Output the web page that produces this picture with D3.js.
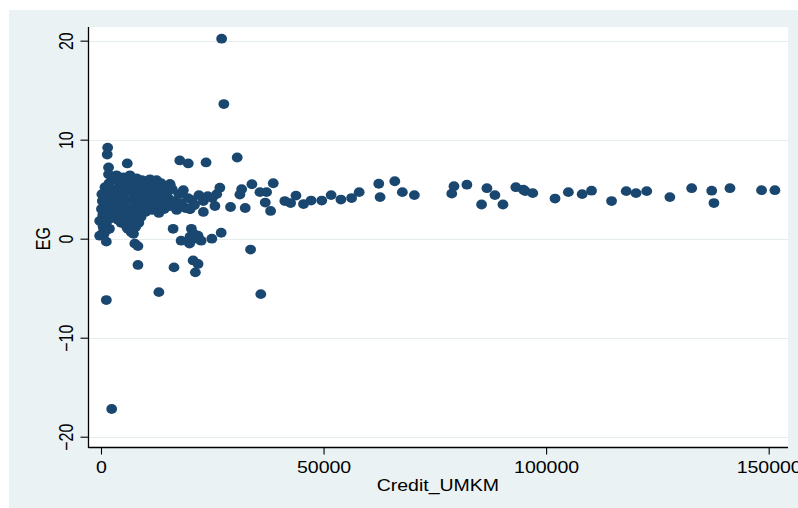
<!DOCTYPE html>
<html>
<head>
<meta charset="utf-8">
<script src="https://cdn.jsdelivr.net/npm/d3@7"></script>
<style>
  html, body { margin: 0; padding: 0; background: #ffffff; }
  svg { display: block; }
  text { font-family: "Liberation Sans", Arial, sans-serif; fill: #000; }
</style>
</head>
<body>
<svg id="chart" width="798" height="508"></svg>
<script>
// ---- Data (Credit_UMKM, EG) ----
const creditUMKM = [
  // outliers / distinct points
  27100, 27600, 1500, 1400, 1700, 1700, 5900, 17700, 19600, 23600, 30600,
  1200, 13000, 35900, 2400, 8300, 16400, 20700, 21800, 21200,
  -300, 1200, 7600, 8300, 6800, 16200, 20300, 18000, 19900, 21800, 22500, 24900, 27000, 33600,
  20800, 21500, 20000, 5800, 7300, 450, -300,
  // medium range
  15500, 26700, 26000, 31600, 31200, 33900, 35700, 37200, 36900, 38100, 38700,
  23000, 25600, 29100, 32400, 23000, 20000,
  41300, 42600, 43800, 45500, 47200, 49600, 51700, 53900, 56300, 58000,
  62400, 62700, 66000, 67700, 70400, 78800, 79300, 82200, 86700, 85500, 88500, 90300, 93200, 95300,
  94900, 97000, 102000, 105000, 108100, 110200, 114700, 118000, 120200, 122600, 127800,
  132700, 137200, 137700, 141300, 148400, 151400,
  // dense cluster
  200, 300, 100, 400, 200, 500, 600, 900, 1000, 1200, 1400, 1600, 1100, 1800, 2000, 2200, 2400, 2600, 1900, 2800, 700, 1300,
  3000, 3200, 3400, 3600, 3800, 4000, 4200, 4400, 4600, 4800, 5000, 5200, 5400, 5600, 5800, 6000, 3500, 4500, 5500, 6200,
  6500, 6800, 7000, 7200, 7400, 7600, 7000, 8000, 8200, 8400, 8600, 8800, 9000, 9200, 9400, 9600, 9800, 10000, 8500, 6000, 7800,
  10300, 10600, 10900, 11200, 11500, 11800, 12100, 12400, 12700, 13000, 13300, 13600, 13900, 14200, 14500, 11000, 12500,
  13500, 14800,
  15000, 15500, 16000, 16500, 17000, 17500, 18000, 18500, 19000, 19500, 20000, 20500, 21000, 22000, 23000, 24000, 25000, 15500
];
const eg = [
  20.2, 13.6, 9.2, 8.5, 7.2, 6.5, 7.6, 7.9, 7.6, 7.7, 8.2,
  -6.2, -5.4, -5.6, -17.2, -2.65, -2.9, -2.2, -2.55, -3.4,
  0.3, -0.3, -0.5, -0.75, 0.65, 1.0, 1.0, -0.2, -0.5, 0.3, -0.2, 0.0, 0.6, -1.1,
  0.5, 0.0, 0.2, 1.15, 0.5, 1.3, 1.8,
  5.5, 5.15, 4.5, 5.0, 4.45, 5.5, 4.7, 4.7, 3.65, 2.8, 5.6,
  2.7, 3.3, 3.2, 3.1, 4.15, 3.0,
  3.8, 3.6, 4.35, 3.5, 3.85, 3.85, 4.4, 3.95, 4.1, 4.7,
  5.55, 4.2, 5.8, 4.7, 4.4, 4.55, 5.3, 5.45, 5.1, 3.45, 4.4, 3.45, 5.2, 4.8,
  4.95, 4.6, 4.05, 4.7, 4.5, 4.85, 3.8, 4.8, 4.6, 4.8, 4.2,
  5.1, 4.85, 3.6, 5.1, 4.9, 4.9,
  4.5, 3.8, 3.0, 2.4, 1.8, 1.2, 0.8, 5.2, 4.1, 3.3, 2.6, 1.9, 1.4, 5.6, 4.8, 3.6, 2.9, 2.1, 1.0, 6.0, 0.5, 0.9,
  5.0, 4.3, 3.5, 2.7, 1.9, 5.8, 4.9, 4.1, 3.2, 2.4, 6.2, 5.4, 4.6, 3.8, 3.0, 2.2, 6.4, 1.6, 1.5, 5.0,
  6.4, 5.6, 4.8, 4.0, 3.2, 2.5, 1.7, 6.1, 5.3, 4.5, 3.7, 2.9, 2.2, 5.9, 5.0, 4.2, 3.4, 2.7, 1.6, 1.0, 1.2,
  5.8, 5.0, 4.3, 3.6, 2.9, 5.4, 4.6, 3.9, 3.2, 2.6, 5.1, 4.4, 3.7, 3.0, 4.8, 6.0, 5.9,
  5.6, 5.3,
  4.2, 3.3, 5.0, 3.8, 2.9, 4.5, 3.6, 4.9, 3.1, 4.1, 3.0, 3.9, 3.4, 4.4, 3.8, 4.3, 4.1, 5.5
];
const xTicks = [0, 50000, 100000, 150000];
const yTicks = [-20, -10, 0, 10, 20];
const xTitle = "Credit_UMKM";
const yTitle = "EG";

// ---- Drawing ----
const svg = d3.select("#chart");
const stretch = 1.22;

// outer graph region
svg.append("rect").attr("x", 9).attr("y", 10).attr("width", 789).attr("height", 498)
  .attr("fill", "#eaf2f3");

const plot = { left: 89, right: 788, top: 27, bottom: 447 };
svg.append("rect").attr("x", plot.left).attr("y", plot.top)
  .attr("width", plot.right - plot.left).attr("height", plot.bottom - plot.top)
  .attr("fill", "#ffffff");

const x = d3.scaleLinear().domain([-2696, 154340]).range([plot.left, plot.right]);
const y = d3.scaleLinear().domain([-21.04, 21.38]).range([plot.bottom, plot.top]);

// gridlines
svg.append("g").selectAll("line").data(yTicks).join("line")
  .attr("x1", plot.left).attr("x2", plot.right)
  .attr("y1", d => Math.round(y(d)) + 0.5).attr("y2", d => Math.round(y(d)) + 0.5)
  .attr("stroke", "#e4ecee").attr("stroke-width", 1.2);

// points
const pts = creditUMKM.map((c, i) => ({ c, e: eg[i] }));
svg.append("g").selectAll("ellipse").data(pts).join("ellipse")
  .attr("cx", d => x(d.c)).attr("cy", d => y(d.e))
  .attr("rx", 5.4).attr("ry", 4.9)
  .attr("fill", "#1a476f");

// x axis
const xAxis = svg.append("g").attr("transform", `translate(0,${plot.bottom + 0.5})`)
  .call(d3.axisBottom(x).tickValues(xTicks).tickFormat(d3.format("d")).tickSize(7).tickPadding(0));
xAxis.select(".domain").attr("d", `M${plot.left - 0.5},0H${plot.right}`).attr("stroke", "#000").attr("stroke-width", 1.3);
xAxis.selectAll(".tick line").attr("stroke", "#000").attr("stroke-width", 1.1);
xAxis.selectAll(".tick text")
  .attr("font-size", 16).attr("font-family", "Liberation Sans, Arial, sans-serif")
  .attr("y", 26).attr("dy", 0)
  .attr("transform", `scale(${stretch},1)`);

// y axis
const yAxis = svg.append("g").attr("transform", `translate(${plot.left - 0.5},0)`)
  .call(d3.axisLeft(y).tickValues(yTicks).tickFormat(d3.format("d")).tickSize(8).tickPadding(0));
yAxis.select(".domain").attr("d", `M0,${plot.top}V${plot.bottom + 1}`).attr("stroke", "#000").attr("stroke-width", 1.3);
yAxis.selectAll(".tick line").attr("stroke", "#000").attr("stroke-width", 1.1);
yAxis.selectAll(".tick text")
  .attr("font-size", 16).attr("font-family", "Liberation Sans, Arial, sans-serif")
  .attr("x", 0).attr("y", 0).attr("dy", 0)
  .attr("text-anchor", "middle")
  .attr("transform", `translate(-16,0) scale(${stretch},1) rotate(-90)`);

// axis titles
svg.append("text").attr("text-anchor", "middle").attr("font-size", 16)
  .attr("transform", `translate(${(x(0) + x(150000)) / 2 + 3},491) scale(${stretch},1)`)
  .text(xTitle);
svg.append("text").attr("text-anchor", "middle").attr("font-size", 16)
  .attr("transform", `translate(50,${y(0)}) scale(${stretch},1) rotate(-90)`)
  .text(yTitle);
</script>
</body>
</html>
